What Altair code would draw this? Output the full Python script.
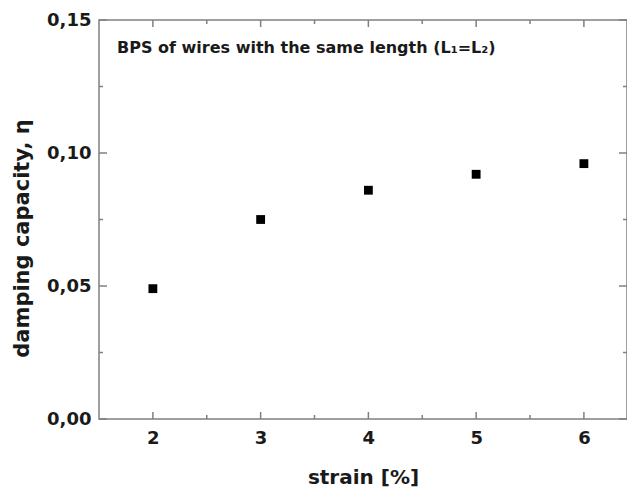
import altair as alt
import pandas as pd

# ---- data ----
strain = [2, 3, 4, 5, 6]
damping = [0.049, 0.075, 0.086, 0.092, 0.096]
x_major = [2, 3, 4, 5, 6]
x_minor = [2.5, 3.5, 4.5, 5.5]
y_major = [0.0, 0.05, 0.10, 0.15]
y_minor = [0.025, 0.075, 0.125]
x_title = "strain [%]"
y_title = "damping capacity, η"
note = ["BPS of wires with the same length (L₁=L₂)"]

W, H = 528, 399
FONT = "DejaVu Sans"
TXT = "#1a1a1a"
GRAY = "#808080"

xscale = alt.Scale(domain=[1.5, 6.4], nice=False, zero=False)
yscale = alt.Scale(domain=[0, 0.15], nice=False, zero=False)

xaxis = alt.Axis(values=x_major, title=x_title, grid=False, ticks=False, tickSize=0,
                 domain=False, labelFont=FONT, labelFontSize=18, labelFontWeight="bold",
                 labelColor=TXT, labelPadding=10, labelFlush=False, format="d",
                 titleFont=FONT, titleFontSize=20, titleFontWeight="bold", titleColor=TXT,
                 titleY=64, titleBaseline="alphabetic")
yaxis = alt.Axis(values=y_major, title=y_title, grid=False, ticks=False, tickSize=0,
                 domain=False, labelFont=FONT, labelFontSize=18, labelFontWeight="bold",
                 labelColor=TXT, labelPadding=8, labelFlush=False,
                 labelExpr="replace(format(datum.value, '.2f'), '.', ',')",
                 titleFont=FONT, titleFontSize=21, titleFontWeight="bold", titleColor=TXT,
                 titleX=-71, titleY=218, titleAngle=-90, titleBaseline="alphabetic")

X = alt.X("x:Q", scale=xscale, axis=xaxis)
Y = alt.Y("y:Q", scale=yscale, axis=yaxis)

df = pd.DataFrame({"x": strain, "y": damping})
points = alt.Chart(df).mark_square(size=78, color="black", opacity=1).encode(x=X, y=Y)


def xticks(vals, L, top):
    d = pd.DataFrame({"x": vals})
    y0 = 0 if top else H
    y1 = L if top else H - L
    return alt.Chart(d).mark_rule(color=GRAY, strokeWidth=1.5).encode(
        x=X, y=alt.value(y0), y2=alt.value(y1))


def yticks(vals, L, right):
    d = pd.DataFrame({"y": vals})
    x0 = W if right else 0
    x1 = W - L if right else L
    return alt.Chart(d).mark_rule(color=GRAY, strokeWidth=1.5).encode(
        y=Y, x=alt.value(x0), x2=alt.value(x1))


ticks = [
    xticks(x_major, 7, False), xticks(x_minor, 4, False),
    xticks(x_major, 7, True), xticks(x_minor, 4, True),
    yticks(y_major, 8, False), yticks(y_minor, 4, False),
    yticks(y_major, 8, True), yticks(y_minor, 4, True),
]

text = alt.Chart(pd.DataFrame({"t": note})).mark_text(
    align="left", baseline="alphabetic", font=FONT, fontSize=16, fontWeight="bold",
    color=TXT).encode(text="t:N", x=alt.value(18), y=alt.value(33))

chart = alt.layer(points, *ticks, text).properties(
    width=W, height=H,
    autosize=alt.AutoSizeParams(type="none"),
    padding={"left": 91, "top": 12, "right": 0, "bottom": 68},
    background="white",
).configure_view(stroke=GRAY, strokeWidth=1.5)

chart.save("out.html", embed_options={"renderer": "svg", "actions": False})
